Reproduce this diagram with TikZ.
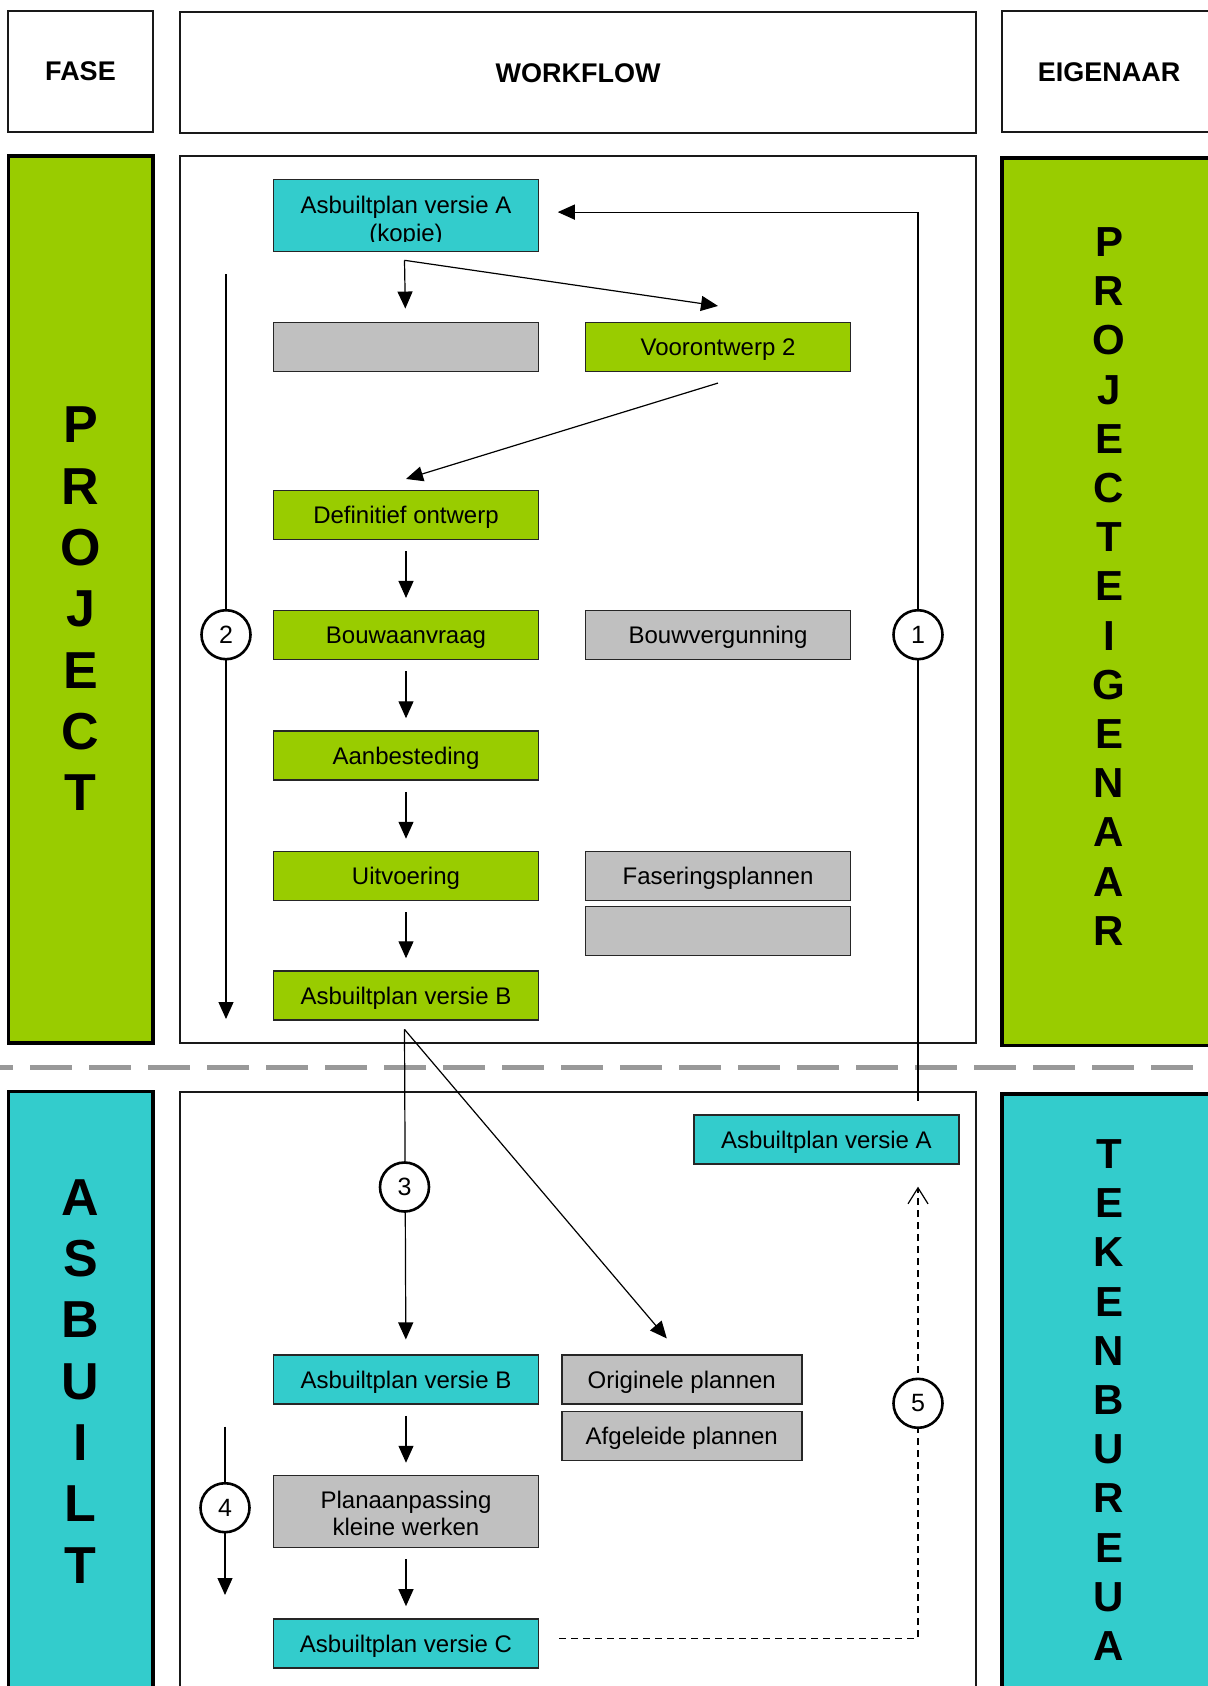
\documentclass[tikz,border=0pt]{standalone}
\usepackage{fontspec}
\setmainfont{Liberation Sans}
\usetikzlibrary{arrows.meta}

\definecolor{LaneGreen}{HTML}{99CC00}
\definecolor{LaneCyan}{HTML}{33CCCC}
\definecolor{BoxGray}{HTML}{C0C0C0}
\definecolor{SepGray}{HTML}{999999}

\begin{document}
\begin{tikzpicture}[x=0.5pt,y=-0.5pt]
  \tikzset{BoxStyle/.style      = {shape          = rectangle,
                                 draw           = black!85,
                                 line width     = 0.75pt,
                                 minimum width  = 132.5pt,
                                 minimum height = 24.5pt,
                                 inner sep      = 2pt,
                                 align          = center,
                                 font           = \fontsize{12}{13.8}\selectfont}}
  \tikzset{OneLine/.style       = {text height = 10pt,
                                 text depth  = 1.4pt}}
  \tikzset{BoxStyleGreen/.style = {BoxStyle, OneLine, fill = LaneGreen}}
  \tikzset{BoxStyleCyan/.style  = {BoxStyle, OneLine, fill = LaneCyan}}
  \tikzset{BoxStyleGray/.style  = {BoxStyle, OneLine, fill = BoxGray}}
  \tikzset{NumberStyle/.style   = {shape          = circle,
                                 draw           = black,
                                 fill           = white,
                                 line width     = 1.3pt,
                                 minimum size   = 24.5pt,
                                 inner sep      = 0pt,
                                 font           = \fontsize{12.5}{14}\selectfont}}
  \tikzset{ArrowStyle/.style    = {line width = 0.6pt,
                                 -{Triangle[length=8.5pt,width=7.5pt]}}}
  \tikzset{FlowStyle/.style     = {ArrowStyle,
                                 shorten <= 5.5pt,
                                 shorten >= 6pt}}
  \tikzset{DashStyle/.style     = {line width = 0.6pt,
                                 dash pattern = on 3.5pt off 2.5pt,
                                 -{Straight Barb[length=8pt,width=10pt]}}}
  \tikzset{LaneStyle/.style     = {draw = black, line width = 1.8pt}}
  \tikzset{FrameStyle/.style    = {draw = black!90, line width = 1pt}}
  \tikzset{SepStyle/.style      = {draw = SepGray, line width = 2.3pt,
                                 dash pattern = on 21pt off 8.5pt}}
  \tikzset{HeadStyle/.style     = {font = \fontsize{13.5}{16}\selectfont\bfseries}}
  \tikzset{LetterStyleBig/.style   = {align = center,
                                 font  = \fontsize{26}{30.65}\selectfont\bfseries}}
  \tikzset{LetterStyleSmall/.style = {align = center,
                                 font  = \fontsize{21}{24.6}\selectfont\bfseries}}

\useasboundingbox (0,0) rectangle (1208,1686);
\clip (0,0) rectangle (1208,1686);

% kolommen
\draw[FrameStyle] (8,11) rectangle (152.5,132);
\draw[FrameStyle] (179.5,12.5) rectangle (976,133.5);
\draw[FrameStyle] (1002,11.5) rectangle (1220,132.5);

\draw[LaneStyle, fill=LaneGreen] (8.5,156) rectangle (153,1043);
\draw[FrameStyle] (179.5,156) rectangle (976,1043);
\draw[LaneStyle, fill=LaneGreen] (1002,158) rectangle (1220,1045.5);

\draw[SepStyle] (-29,1067.5) -- (1240,1067.5);

\draw[LaneStyle, fill=LaneCyan] (8.5,1091.5) rectangle (153,1700);
\draw[FrameStyle] (179.5,1092.3) rectangle (976,1700);
\draw[LaneStyle, fill=LaneCyan] (1002,1094) rectangle (1220,1700);

\draw (80.5,71.5) node[HeadStyle] (fase) {FASE};
\draw (578,73) node[HeadStyle] (workflow) {WORKFLOW};
\draw (1109,72) node[HeadStyle] (eigenaar) {EIGENAAR};

\draw (80.7,608.9) node[LetterStyleBig] (project) {P\\R\\O\\J\\E\\C\\T};
\draw (80.7,1381.2) node[LetterStyleBig] (asbuilt) {A\\S\\B\\U\\I\\L\\T};
\draw (1109,586.4) node[LetterStyleSmall] (projecteigenaar)
  {P\\R\\O\\J\\E\\C\\T\\E\\I\\G\\E\\N\\A\\A\\R};
\draw (1109,1400.1) node[LetterStyleSmall] (tekenbureau)
  {T\\E\\K\\E\\N\\B\\U\\R\\E\\U\\A};

% project
\coordinate (P1)  at (406,215.3);
\coordinate (P2)  at (406,347.2);
\coordinate (P3)  at (718,347.2);
\coordinate (P4)  at (406,515.2);
\coordinate (P5)  at (406,635.2);
\coordinate (P6)  at (718,635.2);
\coordinate (P7)  at (406,755.5);
\coordinate (P8)  at (406,876);
\coordinate (P9)  at (718,876);
\coordinate (P10) at (718,931);
\coordinate (P11) at (406,995.5);
% asbuilt
\coordinate (Q1)  at (826.4,1139.7);
\coordinate (Q2)  at (406,1379.7);
\coordinate (Q3)  at (681.8,1379.7);
\coordinate (Q4)  at (681.8,1435.9);
\coordinate (Q5)  at (406,1511.5);
\coordinate (Q6)  at (406,1643.4);

\coordinate (splitA) at (404.5,260.3);
\coordinate (splitB) at (404.5,1029.4);
\coordinate (ret1)   at (918,1100.5);
\coordinate (l2top)  at (226,274);
\coordinate (l2bot)  at (226,1019);
\coordinate (l4top)  at (225,1426.7);
\coordinate (l4bot)  at (225,1595);
\coordinate (l5top)  at (918,1186.7);

\draw (P1)  node[BoxStyle, fill=LaneCyan, minimum height=36pt] (kopie) {};
\begin{scope}
  \clip (kopie.north west) rectangle ([yshift=5.3pt]kopie.south east);
  \draw ([yshift=-2.9pt]kopie.center) node[align=center,
    font=\fontsize{12}{13.8}\selectfont] (kopietekst) {Asbuiltplan versie A\\(kopie)};
\end{scope}
\draw (P2)  node[BoxStyleGray]  (leeg1) {};
\draw (P3)  node[BoxStyleGreen] (voor) {Voorontwerp 2};
\draw (P4)  node[BoxStyleGreen] (def) {Definitief ontwerp};
\draw (P5)  node[BoxStyleGreen] (bouw) {Bouwaanvraag};
\draw (P6)  node[BoxStyleGray]  (verg) {Bouwvergunning};
\draw (P7)  node[BoxStyleGreen] (aanb) {Aanbesteding};
\draw (P8)  node[BoxStyleGreen] (uitv) {Uitvoering};
\draw (P9)  node[BoxStyleGray]  (fasering) {Faseringsplannen};
\draw (P10) node[BoxStyleGray]  (leeg2) {};
\draw (P11) node[BoxStyleGreen] (versieB) {Asbuiltplan versie B};

\draw (Q1)  node[BoxStyleCyan]  (versieA) {Asbuiltplan versie A};
\draw (Q2)  node[BoxStyleCyan]  (asbB) {Asbuiltplan versie B};
\draw (Q3)  node[BoxStyleGray, minimum width=120pt] (orig) {Originele plannen};
\draw (Q4)  node[BoxStyleGray, minimum width=120pt] (afgel) {Afgeleide plannen};
\draw (Q5)  node[BoxStyle, fill=BoxGray, minimum height=36pt] (plan) {};
\draw ([yshift=-1pt]plan.center) node[align=center,
  font=\fontsize{12}{13.8}\selectfont] (plantekst) {Planaanpassing\\kleine werken};
\draw (Q6)  node[BoxStyleCyan]  (versieC) {Asbuiltplan versie C};

% pijlen
\draw[ArrowStyle, shorten >=9.25pt] (ret1) |- ([yshift=1.6pt]kopie.east);
\draw[ArrowStyle, shorten >=6.7pt] (splitA) -- (leeg1);
\draw[ArrowStyle] (splitA) -- ([yshift=8pt]voor.north);
\draw[ArrowStyle] ([yshift=-5.3pt]voor.south) -- ([yshift=5.5pt]def.north);
\draw[FlowStyle] (def) -- (bouw);
\draw[FlowStyle] (bouw) -- (aanb);
\draw[FlowStyle] (aanb) -- (uitv);
\draw[FlowStyle] (uitv) -- (versieB);
\draw[ArrowStyle] (l2top) -- (l2bot);

\draw[ArrowStyle, shorten >=7.5pt] (splitB) -- (asbB);
\draw[ArrowStyle] (splitB) -- ([xshift=-7.5pt,yshift=8pt]orig.north);
\draw[FlowStyle] (asbB) -- (plan);
\draw[FlowStyle] (plan) -- (versieC);
\draw[ArrowStyle] (l4top) -- (l4bot);
\draw[DashStyle, shorten <=10pt] ([yshift=2.5pt]versieC.east) -| (l5top);

\draw (918,634.7)    node[NumberStyle] (n1) {1};
\draw (226,634.7)    node[NumberStyle] (n2) {2};
\draw (404.5,1187)   node[NumberStyle] (n3) {3};
\draw (225,1507.7)   node[NumberStyle] (n4) {4};
\draw (918,1403.3)   node[NumberStyle] (n5) {5};
\end{tikzpicture}
\end{document}
